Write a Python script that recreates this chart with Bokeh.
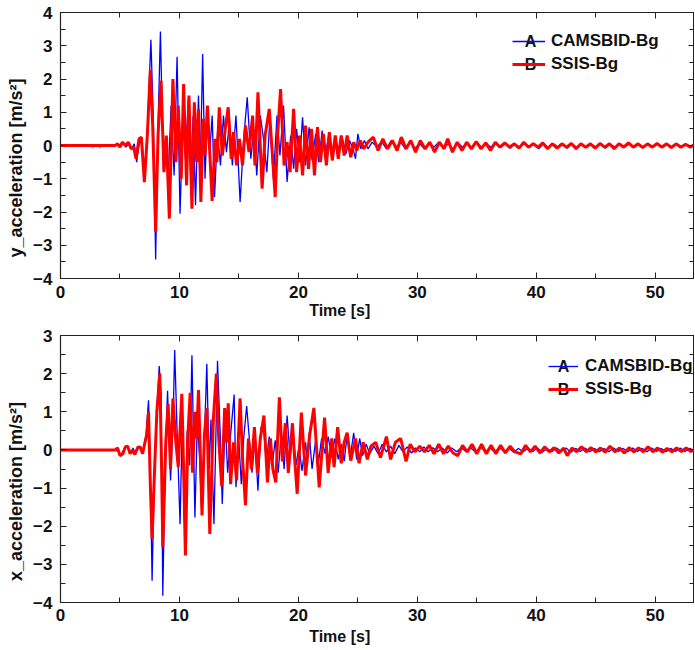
import math
from bokeh.plotting import figure
from bokeh.layouts import column
from bokeh.models import (LinearAxis, SingleIntervalTicker, Range1d, Legend,
                          LegendItem, Label, CustomLabelingPolicy)
from bokeh.embed import file_html
from bokeh.resources import INLINE

# ---------------- data (time [s], acceleration [m/s^2]) ----------------
ya_camsbid = [
    (0, 0), (2.6, 0), (2.7, -0.05), (2.8, 0), (3.2, 0), (3.3, -0.05), (3.4, 0),
    (4.6, 0), (4.8, 0.05), (5.0, -0.05), (5.25, 0.1), (5.5, -0.05), (5.75, 0.05),
    (6.0, -0.1), (6.2, 0.05), (6.4, -0.5), (6.6, 0.0), (6.85, 0.2), (7.05, -1.05),
    (7.3, 0.4), (7.6, 3.18), (7.8, 0.8), (8.0, -3.43), (8.2, 0.6), (8.4, 3.43),
    (8.65, -0.75), (8.85, 0.2), (9.05, -0.95), (9.3, 1.2), (9.55, -0.9), (9.8, 2.67),
    (10.05, -2.05), (10.3, 0.9), (10.5, -0.4), (10.75, 1.4), (10.95, -1.1),
    (11.15, 0.9), (11.35, -1.8), (11.6, 1.5), (11.75, -0.8), (11.95, 2.75),
    (12.15, -1.0), (12.35, 1.0), (12.55, -0.2), (12.75, 0.9), (12.95, -1.55),
    (13.2, 0.4), (13.45, -0.6), (13.7, 0.9), (13.95, -0.2), (14.2, 0.7),
    (14.45, -0.6), (14.75, 0.9), (15.1, -1.7), (15.4, 0.2), (15.7, 1.45),
    (16.0, -0.4), (16.25, 0.5), (16.5, -0.9), (16.8, 0.9), (17.1, 0.1),
    (17.35, -0.8), (17.6, 0.8), (17.9, -1.0), (18.2, 0.9), (18.45, -0.3),
    (18.75, 1.2), (19.05, -1.1), (19.35, 0.3), (19.6, -0.7), (19.85, 0.5),
    (20.1, -0.5), (20.35, 0.85), (20.6, -0.6), (20.9, 0.55), (21.15, -0.45),
    (21.45, 0.35), (21.7, -0.5), (22.0, 0.45), (22.25, -0.3), (22.55, 0.3),
    (22.8, -0.35), (23.1, 0.25), (23.4, -0.2), (23.7, 0.2), (24.0, -0.25),
    (24.3, 0.15), (24.6, -0.1), (24.8, -0.4), (25.0, 0.35), (25.25, -0.1),
    (25.55, 0.15), (25.85, -0.1), (26.2, 0.1), (26.6, -0.05), (27.0, 0.12),
    (27.4, -0.1), (27.8, 0.15), (28.2, -0.05), (28.6, 0.1), (29.0, -0.1),
    (29.4, 0.08), (29.8, -0.08), (30.2, 0.05), (30.6, -0.1), (31.0, 0.08),
    (31.4, -0.05), (31.8, 0.1), (32.2, -0.08), (32.6, 0.05), (33.0, -0.1),
    (33.4, 0.08), (33.8, -0.05), (34.2, 0.05), (34.6, -0.08), (35.0, 0.1),
    (35.4, -0.05), (35.8, 0.05), (36.2, -0.05), (36.6, 0.08), (37.0, -0.05),
    (37.4, 0.05), (37.8, -0.08), (38.2, 0.05), (38.6, -0.05), (39.0, 0.06),
    (39.4, -0.05), (39.8, 0.05), (40.2, -0.1), (40.6, 0.05), (41.0, -0.05),
    (41.4, 0.06), (41.8, -0.04), (42.2, 0.05), (42.6, -0.08), (43.0, 0.05),
    (43.4, -0.05), (43.8, 0.05), (44.2, -0.06), (44.6, 0.04), (45.0, -0.05),
    (45.4, 0.05), (45.8, -0.08), (46.2, 0.04), (46.6, -0.05), (47.0, 0.05),
    (47.4, -0.04), (47.8, 0.05), (48.2, -0.06), (48.6, 0.04), (49.0, -0.05),
    (49.4, 0.04), (49.8, -0.04), (50.2, 0.05), (50.6, -0.05), (51.0, 0.04),
    (51.4, -0.05), (51.8, 0.05), (52.2, -0.04), (52.6, 0.04), (53.0, -0.05),
    (53.4, 0.03),
]

ya_ssis = [
    (0, 0), (4.6, 0), (4.8, 0.05), (5.0, -0.05), (5.2, 0.1), (5.45, 0.0),
    (5.7, 0.1), (5.95, -0.1), (6.15, -0.05), (6.35, -0.4), (6.6, 0.2),
    (6.8, 0.25), (7.05, -1.1), (7.3, 0.3), (7.55, 2.27), (7.75, 0.6),
    (8.0, -2.6), (8.2, 0.3), (8.45, 1.95), (8.7, -0.8), (8.9, 0.3),
    (9.15, -2.2), (9.45, 2.0), (9.7, -0.5), (9.9, 1.2), (10.15, -1.0),
    (10.35, 1.85), (10.6, -1.2), (10.8, 1.5), (11.05, -1.9), (11.25, 1.3),
    (11.45, -0.5), (11.6, 1.1), (11.8, -1.7), (12.0, 0.8), (12.15, -0.3),
    (12.35, 1.2), (12.75, -1.67), (13.0, 0.2), (13.15, -0.5), (13.35, 1.15),
    (13.6, -0.3), (13.85, 0.5), (14.1, 1.15), (14.35, -0.4), (14.55, 0.4),
    (14.8, -0.6), (15.05, 0.2), (15.3, -0.6), (15.55, 0.6), (15.85, -0.2),
    (16.15, 0.9), (16.35, -0.6), (16.6, 1.6), (16.95, -1.3), (17.2, 0.3),
    (17.55, 1.1), (17.8, -0.2), (18.05, -1.55), (18.25, 0.3), (18.5, 1.7),
    (18.8, -0.6), (19.05, 0.1), (19.3, -0.8), (19.6, 1.1), (19.85, -0.8),
    (20.1, 0.3), (20.35, -0.9), (20.6, 0.6), (20.85, -0.7), (21.1, 0.5),
    (21.35, -0.9), (21.6, 0.55), (21.85, -0.5), (22.1, 0.35), (22.35, -0.6),
    (22.6, 0.4), (22.85, -0.45), (23.1, 0.3), (23.35, -0.4), (23.6, 0.3),
    (23.85, -0.3), (24.1, 0.3), (24.4, -0.35), (24.65, 0.1), (24.9, -0.15),
    (25.2, 0.15), (25.5, -0.1), (25.85, 0.1), (26.3, 0.25), (26.7, -0.15),
    (27.1, 0.2), (27.5, -0.1), (27.9, 0.15), (28.3, -0.15), (28.65, 0.25),
    (29.05, -0.1), (29.45, 0.15), (29.85, -0.2), (30.25, 0.15), (30.65, -0.1),
    (31.05, 0.1), (31.45, -0.2), (31.85, 0.1), (32.25, -0.1), (32.55, 0.2),
    (32.95, -0.2), (33.35, 0.1), (33.75, -0.15), (34.15, 0.1), (34.55, -0.1),
    (34.95, 0.12), (35.35, -0.1), (35.75, 0.08), (36.15, -0.15), (36.55, 0.1),
    (36.95, -0.05), (37.35, 0.08), (37.75, -0.05), (38.15, 0.05), (38.55, -0.08),
    (38.95, 0.1), (39.35, -0.05), (39.75, 0.05), (40.15, -0.05), (40.55, 0.08),
    (40.95, -0.1), (41.35, 0.05), (41.75, -0.08), (42.15, 0.05), (42.55, -0.05),
    (42.95, 0.06), (43.35, -0.1), (43.75, 0.05), (44.15, -0.05), (44.55, 0.05),
    (44.95, -0.08), (45.35, 0.06), (45.75, -0.05), (46.15, 0.05), (46.55, -0.1),
    (46.95, 0.05), (47.35, -0.05), (47.75, 0.08), (48.15, -0.05), (48.55, 0.05),
    (48.95, -0.06), (49.35, 0.05), (49.75, -0.05), (50.15, 0.06), (50.55, -0.05),
    (50.95, 0.05), (51.35, -0.06), (51.75, 0.05), (52.15, -0.05), (52.55, 0.04),
    (52.95, -0.05), (53.35, 0.05),
]

xa_camsbid = [
    (0, 0), (4.6, 0), (4.9, -0.05), (5.05, -0.15), (5.3, 0.0), (5.5, 0.1),
    (5.7, 0.05), (5.9, -0.1), (6.1, 0.05), (6.3, -0.1), (6.55, 0.05),
    (6.75, 0.07), (6.9, -0.1), (7.05, 0.15), (7.2, 0.4), (7.4, 1.3),
    (7.55, -0.5), (7.7, -3.43), (7.9, -0.5), (8.1, 1.0), (8.3, 2.2),
    (8.45, 1.5), (8.6, -3.82), (8.8, -0.3), (9.0, 1.55), (9.25, -0.8),
    (9.45, 0.6), (9.6, 2.62), (9.8, 0.5), (10.05, -1.95), (10.25, 0.9),
    (10.45, -2.3), (10.65, 0.5), (10.85, -0.4), (11.05, 2.48), (11.3, -1.77),
    (11.5, 0.7), (11.7, -0.2), (11.85, -1.5), (12.1, 0.3), (12.3, 2.26),
    (12.5, -0.5), (12.65, 0.8), (12.9, -1.95), (13.2, 2.34), (13.45, 0.2),
    (13.6, -1.42), (13.85, 0.8), (14.05, -0.6), (14.3, 0.4), (14.6, 1.45),
    (14.75, -0.98), (15.0, 0.2), (15.2, -0.9), (15.4, 0.3), (15.65, 1.15),
    (15.9, 0.2), (16.1, -0.6), (16.35, 0.3), (16.6, -1.07), (16.85, 0.6),
    (17.1, 0.46), (17.3, -0.3), (17.55, 0.35), (17.8, -0.4), (18.05, 0.25),
    (18.3, -0.6), (18.55, 0.4), (18.8, -0.5), (19.05, 0.9), (19.3, -0.2),
    (19.55, 0.4), (19.8, -0.4), (20.05, 0.1), (20.3, -0.55), (20.6, 0.2),
    (20.75, -0.3), (20.9, 0.45), (21.15, -0.5), (21.45, 0.25), (21.7, -0.3),
    (21.95, 0.3), (22.25, -0.1), (22.5, 0.35), (22.8, -0.2), (23.05, 0.3),
    (23.35, -0.25), (23.6, 0.15), (23.85, -0.3), (24.1, 0.4), (24.35, -0.2),
    (24.65, 0.45), (24.9, -0.25), (25.15, 0.3), (25.4, -0.15), (25.7, 0.15),
    (26.0, -0.1), (26.35, 0.1), (26.7, -0.1), (27.05, 0.15), (27.4, -0.05),
    (27.75, 0.1), (28.1, -0.1), (28.45, 0.12), (28.8, -0.05), (29.15, 0.08),
    (29.5, -0.08), (29.85, 0.05), (30.2, -0.05), (30.55, 0.08), (30.9, -0.05),
    (31.3, 0.06), (31.7, -0.05), (32.1, 0.05), (32.5, -0.08), (32.9, 0.05),
    (33.3, -0.05), (33.7, 0.06), (34.1, -0.05), (34.5, 0.05), (34.9, -0.06),
    (35.3, 0.08), (35.7, -0.05), (36.1, 0.05), (36.5, -0.05), (36.9, 0.06),
    (37.3, -0.04), (37.7, 0.05), (38.1, -0.06), (38.5, 0.04), (38.9, -0.05),
    (39.3, 0.05), (39.7, -0.04), (40.1, 0.05), (40.5, -0.06), (40.9, 0.04),
    (41.3, -0.05), (41.7, 0.05), (42.1, -0.04), (42.5, 0.05), (42.9, -0.06),
    (43.3, 0.04), (43.7, -0.04), (44.1, 0.05), (44.5, -0.05), (44.9, 0.04),
    (45.3, -0.05), (45.7, 0.04), (46.1, -0.05), (46.5, 0.05), (46.9, -0.04),
    (47.3, 0.04), (47.7, -0.05), (48.1, 0.05), (48.5, -0.04), (48.9, 0.04),
    (49.3, -0.05), (49.7, 0.05), (50.1, -0.04), (50.5, 0.04), (50.9, -0.05),
    (51.3, 0.04), (51.7, -0.04), (52.1, 0.05), (52.5, -0.04), (52.9, 0.04),
    (53.3, -0.03),
]

xa_ssis = [
    (0, 0), (4.6, 0), (4.8, 0.05), (5.0, -0.15), (5.25, -0.1), (5.45, 0.08),
    (5.65, 0.1), (5.85, -0.1), (6.05, 0.0), (6.25, -0.12), (6.5, 0.07),
    (6.7, 0.08), (6.9, -0.1), (7.1, 0.2), (7.25, 0.4), (7.4, 1.0),
    (7.55, -0.9), (7.7, -2.33), (7.9, -0.6), (8.1, 1.0), (8.35, 2.0),
    (8.5, -0.5), (8.6, -2.55), (8.85, 0.2), (9.05, 1.2), (9.25, -0.5),
    (9.45, 1.35), (9.7, 0.2), (9.9, -0.45), (10.2, 1.47), (10.35, -0.5),
    (10.5, -2.77), (10.7, 0.3), (10.9, 1.5), (11.1, -0.6), (11.3, 1.0),
    (11.45, 0.3), (11.6, 1.57), (11.9, -1.72), (12.1, 0.4), (12.3, 1.1),
    (12.55, -2.2), (12.85, 0.8), (13.1, 2.0), (13.3, 0.3), (13.55, -0.95),
    (13.8, 1.1), (13.95, 0.2), (14.1, 1.22), (14.3, -0.9), (14.55, 0.2),
    (14.8, -0.8), (15.1, 1.35), (15.3, -0.2), (15.55, -1.45), (15.8, 0.3),
    (16.05, -0.5), (16.3, 0.6), (16.55, -0.6), (16.8, 0.3), (17.1, 0.9),
    (17.4, -0.85), (17.65, 0.3), (17.85, -0.5), (18.1, -0.85), (18.4, 1.38),
    (18.65, -0.3), (18.9, 0.7), (19.15, -0.6), (19.5, 0.7), (19.7, -0.3),
    (19.9, -1.15), (20.25, 0.98), (20.6, -0.67), (20.95, 0.4), (21.3, 1.1),
    (21.75, -0.98), (22.2, 0.85), (22.5, -0.6), (22.8, 0.3), (23.0, -0.45),
    (23.3, 0.6), (23.6, -0.35), (23.85, 0.2), (24.1, 0.45), (24.4, -0.28),
    (24.8, 0.3), (25.1, -0.35), (25.45, 0.2), (25.8, -0.25), (26.1, 0.1),
    (26.5, 0.2), (26.9, -0.2), (27.4, 0.35), (27.75, -0.25), (28.15, 0.2),
    (28.6, 0.3), (29.05, -0.3), (29.4, 0.15), (29.8, -0.05), (30.2, 0.1),
    (30.6, -0.05), (31.0, 0.12), (31.4, -0.1), (31.8, 0.15), (32.2, -0.1),
    (32.6, 0.1), (33.0, -0.08), (33.4, -0.15), (33.8, 0.12), (34.2, -0.05),
    (34.6, 0.15), (35.0, -0.1), (35.4, 0.15), (35.8, -0.1), (36.2, 0.12),
    (36.6, -0.1), (37.0, 0.12), (37.4, -0.08), (37.8, 0.1), (38.2, -0.05),
    (38.7, -0.1), (39.1, 0.12), (39.5, -0.05), (39.9, 0.1), (40.3, -0.08),
    (40.7, 0.08), (41.1, -0.05), (41.5, 0.06), (41.9, -0.08), (42.3, 0.05),
    (42.6, -0.15), (43.0, 0.05), (43.4, -0.05), (43.8, 0.08), (44.2, -0.05),
    (44.6, 0.06), (45.0, -0.05), (45.4, 0.05), (45.8, -0.06), (46.2, 0.1),
    (46.6, -0.05), (47.0, 0.05), (47.4, -0.08), (47.8, 0.06), (48.2, -0.05),
    (48.6, 0.05), (49.0, -0.05), (49.4, 0.08), (49.8, -0.05), (50.2, 0.05),
    (50.6, -0.06), (51.0, 0.04), (51.4, -0.05), (51.8, 0.05), (52.2, -0.04),
    (52.6, 0.05), (53.0, -0.04), (53.4, 0.04),
]

series_names = ["CAMSBID-Bg", "SSIS-Bg"]
series_letters = ["A", "B"]
series_colors = ["#0000ff", "#ff0000"]
x_title = "Time [s]"
y_titles = ["y_acceleration [m/s\u00b2]", "x_acceleration [m/s\u00b2]"]
x_ticks_interval = 10
y_ticks_interval = 1

FONT = "Liberation Sans"
W = 694
X_END = 53.3
NB = "\u00a0"

NO_LABELS = """
const all = Array.from(indices)
for (const i of all) indices.unset(i)
return indices
"""


def unzip(pairs):
    return [p[0] for p in pairs], [p[1] for p in pairs]


def style_axis(ax, show_labels):
    ax.axis_line_color = "#222222"
    ax.axis_line_width = 1.2
    ax.major_tick_line_color = "#222222"
    ax.minor_tick_line_color = "#222222"
    ax.major_tick_in = 6
    ax.major_tick_out = 0
    ax.minor_tick_in = 5
    ax.minor_tick_out = 0
    if show_labels:
        ax.major_label_text_font = FONT
        ax.major_label_text_font_style = "bold"
        ax.major_label_text_font_size = "17px"
        ax.major_label_text_color = "#111111"
        ax.axis_label_text_font = FONT
        ax.axis_label_text_font_style = "bold"
        ax.axis_label_text_color = "#111111"
    else:
        ax.major_label_text_font_size = "0px"
        ax.major_label_standoff = 0
        ax.major_label_policy = CustomLabelingPolicy(code=NO_LABELS)


def make_plot(height, y_lo, y_hi, b_top, b_bottom, blue, red, ylabel,
              legend_loc, glyph_w, standoff, letter_x, letter_ys,
              tick_standoff, title_standoff):
    p = figure(width=W, height=height, x_range=Range1d(0, X_END),
               y_range=Range1d(y_lo, y_hi), output_backend="svg",
               toolbar_location=None, x_axis_type=None, y_axis_type=None,
               min_border_left=60, min_border_right=0, min_border_top=b_top,
               min_border_bottom=b_bottom)
    p.outline_line_color = "#222222"
    p.background_fill_color = "white"
    p.border_fill_color = "white"

    # bottom axis; its title sits left of the frame centre
    xb = LinearAxis(ticker=SingleIntervalTicker(interval=x_ticks_interval,
                                                num_minor_ticks=2),
                    axis_label=x_title + NB * 17)
    style_axis(xb, True)
    xb.axis_label_text_font_size = "16px"
    xb.major_label_standoff = tick_standoff
    xb.axis_label_standoff = title_standoff
    p.add_layout(xb, "below")

    xt = LinearAxis(ticker=SingleIntervalTicker(interval=x_ticks_interval,
                                                num_minor_ticks=2))
    style_axis(xt, False)
    p.add_layout(xt, "above")

    yl = LinearAxis(ticker=SingleIntervalTicker(interval=y_ticks_interval,
                                                num_minor_ticks=2),
                    axis_label=ylabel + NB * 9)
    style_axis(yl, True)
    yl.axis_label_text_font_size = "18px"
    yl.major_label_standoff = 8
    yl.axis_label_standoff = 4
    p.add_layout(yl, "left")

    yr = LinearAxis(ticker=SingleIntervalTicker(interval=y_ticks_interval,
                                                num_minor_ticks=2))
    style_axis(yr, False)
    p.add_layout(yr, "right")

    bt, bv = unzip(blue)
    rt, rv = unzip(red)
    r_blue = p.line(bt, bv, line_color=series_colors[0], line_width=1.3)
    r_red = p.line(rt, rv, line_color=series_colors[1], line_width=3)

    legend = Legend(items=[LegendItem(label=series_names[0], renderers=[r_blue]),
                           LegendItem(label=series_names[1], renderers=[r_red])],
                    location=legend_loc, orientation="vertical",
                    label_text_font=FONT, label_text_font_style="bold",
                    label_text_font_size="17px", label_text_color="#111111",
                    glyph_width=glyph_w, glyph_height=20, label_height=20,
                    label_standoff=standoff, spacing=3, padding=0, margin=0,
                    border_line_alpha=0, background_fill_alpha=0)
    p.add_layout(legend)

    for letter, ly in zip(series_letters, letter_ys):
        p.add_layout(Label(x=letter_x, y=ly, x_units="screen", y_units="screen",
                           text=letter, text_font=FONT, text_font_style="bold",
                           text_font_size="16px", text_color="#111111",
                           text_align="center", text_baseline="alphabetic"))
    return p


# frame 1: y 12..278 ; frame 2: y 335..602 (page pixels)
p1 = make_plot(325, -4, 4, 12, 47, ya_camsbid, ya_ssis, y_titles[0],
               (452, 204), 33, 6, 470, (237, 214), 7, 1)
p2 = make_plot(325, -4, 3, 10, 48, xa_camsbid, xa_ssis, y_titles[1],
               (488, 203), 30, 7, 503, (236, 213), 6, 4)

layout = column(p1, p2, spacing=0)
open("out.html", "w").write(file_html(layout, INLINE))
